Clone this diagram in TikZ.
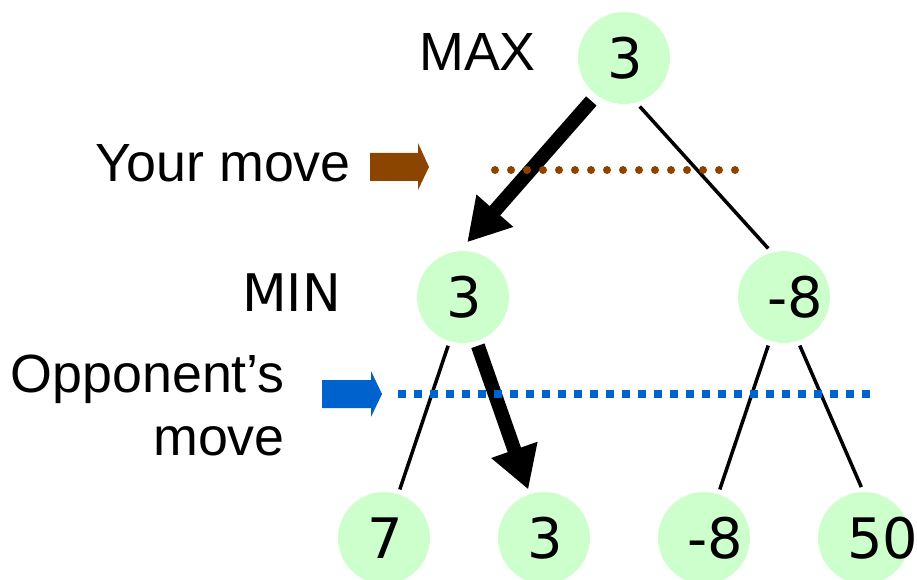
\documentclass[tikz,border=0pt]{standalone}
\usepackage{fontspec}
\newfontfamily\numfont{DejaVu Sans}
\newfontfamily\lblfont{Liberation Sans}
\usetikzlibrary{arrows.meta}
\definecolor{nodegreen}{RGB}{204,255,204}
\definecolor{movebrown}{RGB}{139,69,0}
\definecolor{moveblue}{RGB}{0,98,204}
\newcommand{\numbox}[1]{\makebox[33bp][l]{#1}}
\begin{document}
\begin{tikzpicture}[x=1bp,y=-1bp,
  state/.style={circle, fill=nodegreen, minimum size=92bp, inner sep=0pt, outer sep=5bp,
    font=\numfont\fontsize{56}{60}\selectfont},
  lbl/.style={inner sep=0pt, font=\lblfont\fontsize{54}{63}\selectfont},
  minlbl/.style={inner sep=0pt, font=\numfont\fontsize{52}{60}\selectfont},
  thinedge/.style={line width=3.5bp},
  bestedge/.style={line width=14bp, -{Triangle[length=42bp,width=46bp]}},
]
\useasboundingbox (0,0) rectangle (917,580);

% nodes
\node[state] (root) at (624,58) {\numbox{3}};
\node[state] (m1) at (463,297) {\numbox{3}};
\node[state] (m2) at (784,297) {\numbox{-8}};
\node[state] (l1) at (384,538) {\numbox{7}};
\node[state] (l2) at (544,538) {\numbox{3}};
\node[state] (l3) at (704,538) {\numbox{-8}};
\node[state] (l4) at (864,538) {\numbox{50}};

% labels
\node[lbl, anchor=base east] (maxlbl) at (536,71) {MAX};
\node[lbl, anchor=base east] (yourlbl) at (351,182) {Your move};
\node[minlbl, anchor=base east] (minlbl) at (341,311) {MIN};
\node[lbl, anchor=base east, align=right] (opplbl) at (285,455) {Opponent’s\\move};

% connectors
\draw[bestedge, shorten <=3bp, shorten >=5bp] (root.-127) -- (m1.89);
\draw[thinedge] (root.-72) -- (m2.108);
\draw[thinedge] (m1.-107) -- (l1.72);
\draw[bestedge] (m1.-73) -- (l2.108);
\draw[thinedge] (m2.-108) -- (l3.72);
\draw[thinedge] (m2.-72) -- (l4.93);

% move markers
\fill[movebrown] (370,153) -- (418,153) -- (418,143) -- (429,167) -- (418,190) -- (418,181) -- (370,181) -- cycle;
\fill[moveblue] (322,380) -- (371,380) -- (371,371) -- (382,394) -- (371,417) -- (371,408) -- (322,408) -- cycle;
\draw[movebrown, line width=8bp, line cap=round, dash pattern=on 0bp off 16bp] (495,170) -- (737,170);
\draw[moveblue, line width=7.5bp, dash pattern=on 8bp off 8bp] (398,394) -- (878,394);
\end{tikzpicture}
\end{document}
